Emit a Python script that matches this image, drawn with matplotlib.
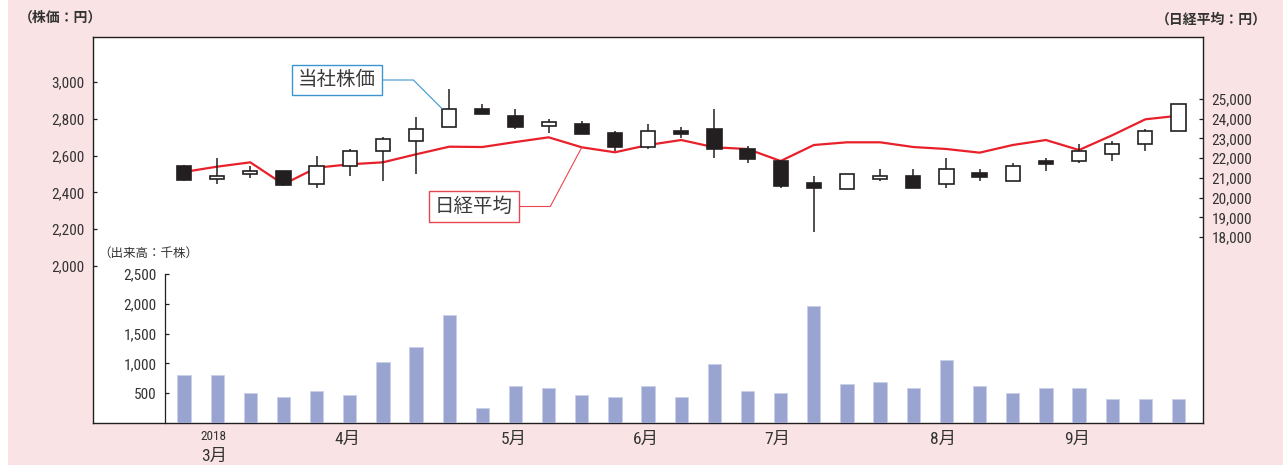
import matplotlib
matplotlib.use('Agg')
import matplotlib.pyplot as plt
from matplotlib import font_manager
from matplotlib.patches import Rectangle

# ---------------- fonts ----------------
_names = {f.name for f in font_manager.fontManager.ttflist}
NARROW = next((n for n in ['Liberation Sans Narrow', 'Roboto Condensed', 'Open Sans Condensed',
                           'DejaVu Sans Condensed', 'Liberation Sans'] if n in _names), 'DejaVu Sans')
JP = 'Noto Sans CJK JP'
FAM = [NARROW, JP, 'DejaVu Sans']
plt.rcParams['font.family'] = FAM

# ---------------- data ----------------
opens  = [2544, 2473, 2500, 2518, 2446, 2542, 2623, 2678, 2758, 2855, 2815, 2761, 2774, 2720, 2647, 2736,
          2747, 2638, 2569, 2448, 2418, 2471, 2489, 2446, 2504, 2460, 2573, 2569, 2611, 2663, 2732]
highs  = [2546, 2584, 2542, 2518, 2596, 2638, 2701, 2810, 2960, 2879, 2852, 2801, 2786, 2732, 2770, 2755,
          2852, 2651, 2574, 2489, 2502, 2529, 2529, 2584, 2529, 2557, 2584, 2665, 2678, 2747, 2879]
lows   = [2462, 2446, 2477, 2435, 2421, 2489, 2460, 2502, 2758, 2824, 2747, 2720, 2716, 2623, 2638, 2698,
          2584, 2557, 2421, 2185, 2418, 2460, 2421, 2421, 2460, 2460, 2516, 2557, 2569, 2625, 2732]
closes = [2469, 2491, 2516, 2442, 2544, 2623, 2692, 2747, 2855, 2824, 2755, 2783, 2716, 2647, 2732, 2716,
          2638, 2580, 2433, 2421, 2502, 2491, 2421, 2526, 2486, 2544, 2554, 2623, 2665, 2732, 2879]
nikkei = [21300, 21568, 21789, 20673, 21516, 21688, 21789, 22195, 22581, 22565, 22819, 23057, 22550, 22297,
          22667, 22920, 22550, 22464, 21855, 22667, 22804, 22804, 22565, 22464, 22278, 22667, 22920, 22413,
          23160, 23970, 24153]
volume = [800, 800, 500, 440, 540, 470, 1020, 1280, 1820, 250, 620, 580, 470, 440, 620, 440,
          990, 540, 500, 1970, 660, 690, 580, 1060, 620, 500, 580, 580, 400, 400, 400]

price_ticks = [2000, 2200, 2400, 2600, 2800, 3000]
nikkei_ticks = [18000, 19000, 20000, 21000, 22000, 23000, 24000, 25000]
volume_ticks = [500, 1000, 1500, 2000, 2500]
month_labels = ['3月', '4月', '5月', '6月', '7月', '8月', '9月']
month_pos = [0.9, 4.94, 9.96, 13.93, 17.91, 22.9, 26.93]
year_label = '2018'

# ---------------- layout ----------------
W, H = 1283, 465
fig = plt.figure(figsize=(W / 100, H / 100), dpi=100)
fig.patch.set_facecolor('white')
fig.add_artist(Rectangle((8 / W, 0), 1 - 8 / W, 1, transform=fig.transFigure,
                         facecolor='#fae3e4', edgecolor='none', zorder=-10))

L, R, B, T = 93 / W, 1203 / W, 1 - 423 / H, 1 - 37 / H
VT = 1 - 274 / H
XLIM = (-2.745, 30.74)
DARK = '#231f20'
TXT = '#333333'

x = list(range(len(opens)))

# Nikkei axis (bottom layer, white background, full frame)
ax_n = fig.add_axes([L, B, R - L, T - B])
ax_n.set_facecolor('white')
ax_n.set_xlim(*XLIM)
ax_n.set_ylim(8567, 28145)
ax_n.plot(x, nikkei, color='#e8202a', lw=1.6, zorder=2, solid_joinstyle='miter')
ax_n.yaxis.tick_right()
ax_n.set_yticks(nikkei_ticks)
ax_n.set_yticklabels([f'{v:,}' for v in nikkei_ticks])
ax_n.tick_params(axis='y', direction='in', length=3, width=0.9, pad=6, labelsize=11,
                 colors=DARK, labelcolor=TXT)
ax_n.set_xticks([])
for s in ax_n.spines.values():
    s.set_color(DARK)
    s.set_linewidth(1.0)

# Price axis (candles on top)
ax_p = fig.add_axes([L, B, R - L, T - B])
ax_p.patch.set_visible(False)
ax_p.set_xlim(*XLIM)
ax_p.set_ylim(1145, 3245)
for s in ax_p.spines.values():
    s.set_visible(False)
ax_p.set_yticks(price_ticks)
ax_p.set_yticklabels([f'{v:,}' for v in price_ticks])
ax_p.tick_params(axis='y', direction='in', length=3, width=0.9, pad=6, labelsize=11,
                 colors=DARK, labelcolor=TXT)
ax_p.set_xticks([])

bw = 0.43
ax_p.vlines(x, lows, highs, color=DARK, lw=1.1, zorder=3)
for i, (o, c) in enumerate(zip(opens, closes)):
    up = c >= o
    ax_p.bar(i, abs(c - o), bottom=min(o, c), width=bw,
             facecolor='white' if up else DARK, edgecolor=DARK, linewidth=1.2, zorder=4)

# Volume axis
ax_v = fig.add_axes([L, B, R - L, VT - B])
ax_v.patch.set_visible(False)
ax_v.set_xlim(*XLIM)
ax_v.set_ylim(0, 2500)
ax_v.bar(x, volume, width=0.4, color='#9aa4d0', edgecolor='#c9cfe8', linewidth=0.6, zorder=2)
for k in ['top', 'right', 'bottom']:
    ax_v.spines[k].set_visible(False)
ax_v.spines['left'].set_position(('data', -0.573))
ax_v.spines['left'].set_color(DARK)
ax_v.spines['left'].set_linewidth(0.9)
ax_v.set_yticks(volume_ticks)
ax_v.set_yticklabels([f'{v:,}' for v in volume_ticks])
ax_v.tick_params(axis='y', direction='in', length=3, width=0.9, pad=6, labelsize=11,
                 colors=DARK, labelcolor=TXT)
ax_v.set_xticks([])

# Month labels below the axis
for lab, pos in zip(month_labels, month_pos):
    off = -24 if lab == month_labels[0] else -11.5
    ax_n.annotate(lab, xy=(pos, 0), xycoords=('data', 'axes fraction'), xytext=(0, off),
                  textcoords='offset points', ha='center', va='center', fontsize=12.5, color=TXT)
ax_n.annotate(year_label, xy=(month_pos[0], 0), xycoords=('data', 'axes fraction'), xytext=(0, -10),
              textcoords='offset points', ha='center', va='center', fontsize=9.5, color=TXT)

# Axis titles
fig.text(60 / W, 1 - 18 / H, '（株価：円）', ha='center', va='center', fontsize=10,
         fontweight='bold', color=TXT)
fig.text(1211 / W, 1 - 20 / H, '（日経平均：円）', ha='center', va='center', fontsize=10,
         fontweight='bold', color=TXT)
fig.text(148 / W, 1 - 253 / H, '（出来高：千株）', ha='center', va='center', fontsize=9,
         color=TXT)

# Callouts
ax_p.annotate('当社株価', xy=(8 - bw / 2, max(opens[8], closes[8])), xycoords='data',
              xytext=(337, H - 80), textcoords='figure pixels', ha='center', va='center',
              fontsize=14, color='#3a3a3a',
              bbox=dict(boxstyle='square,pad=0.3', facecolor='white', edgecolor='#3d95d0', lw=1.0),
              arrowprops=dict(arrowstyle='-', color='#3d95d0', lw=0.8, shrinkA=0, shrinkB=0,
                              relpos=(1, 0.5), connectionstyle='angle,angleA=0,angleB=135,rad=0'),
              zorder=6)
ax_n.annotate('日経平均', xy=(12, nikkei[12]), xycoords='data',
              xytext=(474, H - 206.5), textcoords='figure pixels', ha='center', va='center',
              fontsize=14, color='#3a3a3a',
              bbox=dict(boxstyle='square,pad=0.3', facecolor='white', edgecolor='#e8474f', lw=1.0),
              arrowprops=dict(arrowstyle='-', color='#e8474f', lw=0.8, shrinkA=0, shrinkB=0,
                              relpos=(1, 0.5), connectionstyle='angle,angleA=0,angleB=62,rad=0'),
              zorder=6)

fig.savefig('out.png', dpi=100, facecolor=fig.get_facecolor())
